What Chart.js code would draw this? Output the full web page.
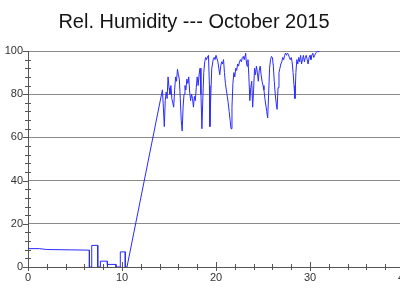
<!DOCTYPE html>
<html>
<head>
<meta charset="utf-8">
<script src="https://cdn.jsdelivr.net/npm/chart.js@4/dist/chart.umd.min.js"></script>
<style>
  html, body { margin: 0; padding: 0; background: #fff; overflow: hidden; }
  .wrap { width: 404px; height: 300px; }
</style>
</head>
<body>
<div class="wrap"><canvas id="rh-chart"></canvas></div>
<script>
/////////////////////////////////////////////////////////////
// DATA (day of month, relative humidity %)

const chartTitle = "Rel. Humidity --- October 2015";

const days = [
  0, 1.2, 2.0, 6.53, 6.53, 6.78, 6.78, 7.42, 7.42, 7.7, 7.7, 8.41, 8.41,
  8.48, 8.48, 9.36, 9.36, 9.82, 9.82, 10.35, 10.35, 10.53,
  14.3, 14.4, 14.5, 14.6, 14.7, 14.8, 14.9, 15.0, 15.1, 15.2, 15.3, 15.4,
  15.5, 15.6, 15.7, 15.8, 15.9, 16.0, 16.1, 16.2, 16.3, 16.4, 16.5, 16.6,
  16.7, 16.8, 16.9, 17.0, 17.1, 17.2, 17.3, 17.4, 17.5, 17.6, 17.7, 17.8,
  17.9, 18.0, 18.1, 18.2, 18.3, 18.4, 18.5, 18.6, 18.7, 18.8, 18.9, 19.0,
  19.1, 19.2, 19.3, 19.35, 19.45, 19.55, 19.7, 19.8, 19.9, 20.0, 20.1, 20.2,
  20.3, 20.4, 20.5, 20.6, 20.7, 20.8, 20.9, 21.0, 21.1, 21.2, 21.3, 21.4,
  21.5, 21.6, 21.7, 21.8, 21.9, 22.0, 22.1, 22.2, 22.3, 22.4, 22.5, 22.6,
  22.7, 22.8, 22.9, 23.0, 23.1, 23.15, 23.2, 23.3, 23.4, 23.5, 23.6, 23.7,
  23.8, 23.9, 24.0, 24.1, 24.2, 24.3, 24.4, 24.5, 24.6, 24.7, 24.8, 24.9,
  25.0, 25.1, 25.2, 25.3, 25.4, 25.5, 25.6, 25.7, 25.8, 25.9, 26.0, 26.1,
  26.2, 26.3, 26.4, 26.5, 26.6, 26.7, 26.8, 26.9, 27.0, 27.1, 27.2, 27.3,
  27.4, 27.5, 27.6, 27.7, 27.8, 27.9, 28.0, 28.1, 28.2, 28.3, 28.4, 28.5,
  28.6, 28.7, 28.8, 28.9, 29.0, 29.1, 29.2, 29.3, 29.4, 29.5, 29.6, 29.7,
  29.8, 29.9, 30.0, 30.1, 30.2, 30.3, 30.4, 30.5, 30.6, 30.7, 30.8, 30.9, 31.0,
];

const humidity = [
  8.5, 8.5, 8.1, 7.8, 0, 0, 10, 10, 0, 0, 2.7, 2.7, 0,
  0, 1.2, 1.2, 0, 0, 7, 7, 0, 0,
  82, 74, 65, 77, 81, 78, 88, 83, 80, 84, 78, 76,
  74, 82, 88, 86, 91.5, 89, 87, 78, 68, 63, 74, 80,
  84, 82, 87, 85, 88, 81, 77, 80, 78, 74, 79, 77,
  83, 88, 84, 89, 92, 80, 64, 78, 90, 95, 97, 96,
  97.5, 98, 84, 65, 80, 92, 96, 97, 96, 98, 98, 95,
  92, 89, 93, 95, 94, 96, 90, 85, 82, 79, 76, 72,
  68, 64, 74, 85, 90, 88, 92, 91, 94, 93, 95, 96,
  95, 97, 97.5, 96, 98, 99, 96, 93, 96, 88, 77, 83,
  86, 74, 82, 92, 89, 93, 90, 86, 91, 93, 89, 86,
  84, 82, 78, 75, 72, 69, 80, 92, 96, 97.5, 97, 93,
  86, 80, 76, 73, 83, 90, 92, 94, 95, 97, 96, 98,
  99, 98, 99, 98.5, 97, 96, 97, 95, 90, 84, 78, 90,
  96, 94, 97, 95, 98, 94, 96, 98, 95, 97, 98, 96,
  94, 97, 98, 96, 98, 99, 97, 98, 99, 99.5, 100, 99.5, 100,
];

const xTickLabels = [0, 10, 20, 30, 40];
const yTickLabels = [0, 20, 40, 60, 80, 100];

/////////////////////////////////////////////////////////////
// PLUGINS

// tick marks crossing the axes (minor) and outside ticks (major)
const axisTicks = {
  id: "axisTicks",
  afterDraw(chart) {
    const {
      ctx,
      scales: { x, y },
    } = chart;
    ctx.save();
    ctx.strokeStyle = "#555";
    ctx.lineWidth = 1;
    ctx.beginPath();
    y.ticks.forEach((t) => {
      const py = Math.round(y.getPixelForValue(t.value)) + 0.5;
      const major = yTickLabels.includes(t.value);
      ctx.moveTo(x.left - (major ? 5 : 3), py);
      ctx.lineTo(x.left + (major ? 0 : 3), py);
    });
    x.ticks.forEach((t) => {
      const px = Math.round(x.getPixelForValue(t.value)) + 0.5;
      const major = xTickLabels.includes(t.value);
      ctx.moveTo(px, y.bottom - (major ? 5 : 3));
      ctx.lineTo(px, y.bottom + (major ? 4 : 3));
    });
    ctx.stroke();
    ctx.restore();
  },
};

// nudge the title a little to the left, like the original
const titleShift = {
  id: "titleShift",
  afterLayout(chart) {
    if (chart.titleBlock) chart.titleBlock.right -= 16;
  },
};

/////////////////////////////////////////////////////////////
// CHART

const points = days.map((d, i) => ({ x: d, y: humidity[i] }));

const rh_config = {
  type: "line",
  data: {
    datasets: [
      {
        data: points,
        borderColor: "#2a2aff",
        borderWidth: 1,
        pointRadius: 0,
        tension: 0,
        fill: false,
      },
    ],
  },
  options: {
    responsive: true,
    maintainAspectRatio: false,
    animation: false,
    layout: {
      padding: { left: 0, right: 0, top: 0, bottom: 16 },
    },
    scales: {
      x: {
        type: "linear",
        min: 0,
        max: 40,
        grid: { display: false, drawTicks: false },
        border: { color: "#555" },
        afterFit: (scale) => {
          scale.height = 17;
          scale.paddingRight = 0;
          scale.paddingLeft = 0;
        },
        ticks: {
          stepSize: 2,
          padding: 4,
          maxRotation: 0,
          autoSkip: false,
          color: "#333",
          font: { family: "'Liberation Sans', Arial", size: 11 },
          callback: (v) => (xTickLabels.includes(v) ? v : ""),
        },
      },
      y: {
        min: 0,
        max: 100,
        grid: {
          drawTicks: false,
          color: (c) =>
            c.tick && yTickLabels.includes(c.tick.value) ? "#8a8a8a" : "transparent",
          lineWidth: 1,
        },
        border: { color: "#555" },
        afterFit: (scale) => {
          scale.width = 28;
        },
        ticks: {
          stepSize: 4,
          padding: 5,
          autoSkip: false,
          color: "#333",
          font: { family: "'Liberation Sans', Arial", size: 11 },
          callback: (v) => (yTickLabels.includes(v) ? v : ""),
        },
      },
    },
    plugins: {
      legend: { display: false },
      tooltip: { enabled: false },
      title: {
        display: true,
        text: chartTitle,
        color: "#151515",
        font: { family: "'Liberation Sans', Arial", size: 20, weight: "normal" },
        padding: { top: 10, bottom: 17 },
      },
    },
  },
  plugins: [axisTicks, titleShift],
};

const rh_ctx = document.querySelector("#rh-chart").getContext("2d");
const rhChart = new Chart(rh_ctx, rh_config);
</script>
</body>
</html>
